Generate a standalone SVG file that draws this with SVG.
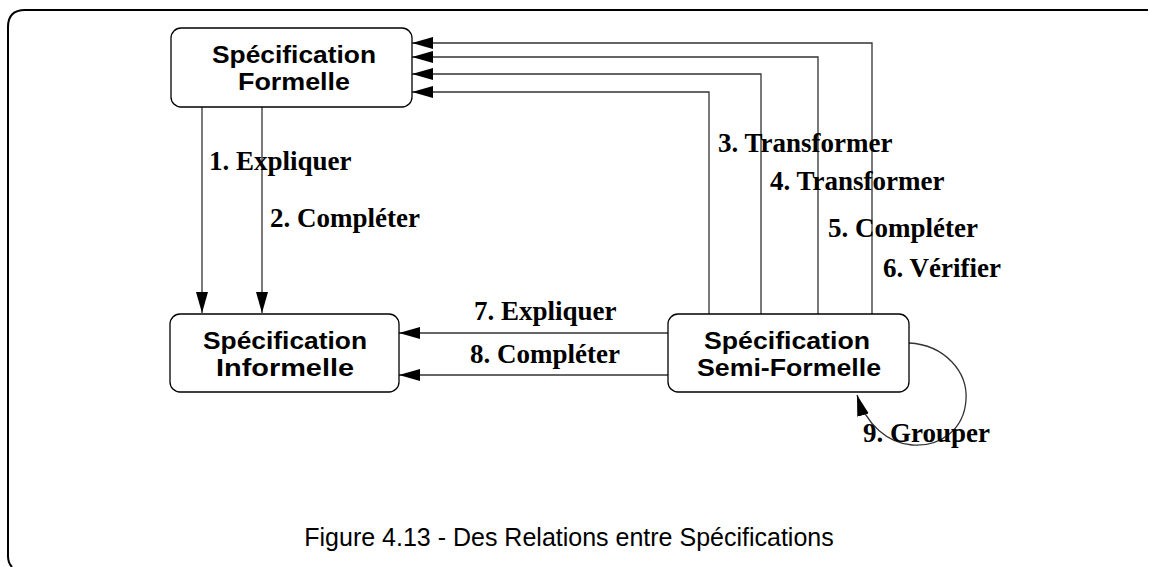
<svg xmlns="http://www.w3.org/2000/svg" width="1150" height="567" viewBox="0 0 1150 567">
<defs>
<marker id="ah" markerWidth="21" markerHeight="12" refX="21" refY="6" orient="auto" markerUnits="userSpaceOnUse">
<path d="M0,0 L21,6 L0,12 Z" fill="#000"/>
</marker>
<style>
.box{fill:#fff;stroke:#000;stroke-width:1.3}
.nl{font-family:"Liberation Sans",Arial,sans-serif;font-weight:bold;font-size:24px;fill:#000;text-anchor:middle}
.el{font-family:"Liberation Serif","Times New Roman",serif;font-weight:bold;font-size:27px;fill:#000}
.c{fill:none;stroke:#333;stroke-width:1.3}
.cap{font-family:"Liberation Sans",Arial,sans-serif;font-size:25px;fill:#000}
</style>
</defs>
<rect width="1150" height="567" fill="#fff"/>
<g id="frame">
<path d="M1148,10 H25 Q8,10 8,27 V556 Q8,563 12,567" fill="none" stroke="#000" stroke-width="2"/>
</g>
<g id="connectors">
<path class="c" d="M872,314 V43 H412" marker-end="url(#ah)"/>
<path class="c" d="M818,314 V57 H412" marker-end="url(#ah)"/>
<path class="c" d="M761,314 V74 H412" marker-end="url(#ah)"/>
<path class="c" d="M709,314 V92 H412" marker-end="url(#ah)"/>
<path class="c" d="M202,107 V313" marker-end="url(#ah)"/>
<path class="c" d="M262,107 V313" marker-end="url(#ah)"/>
<path class="c" d="M668,333 H399" marker-end="url(#ah)"/>
<path class="c" d="M668,375 H399" marker-end="url(#ah)"/>
<path class="c" d="M909,343 C945,345 968,372 966,400 C964,430 940,447 912,445 C888,443 866,425 857,395" marker-end="url(#ah)"/>
<text class="el" x="209" y="170">1. Expliquer</text>
<text class="el" x="270" y="227">2. Compléter</text>
<text class="el" x="718" y="152">3. Transformer</text>
<text class="el" x="770" y="190">4. Transformer</text>
<text class="el" x="828" y="237">5. Compléter</text>
<text class="el" x="883" y="277">6. Vérifier</text>
<text class="el" x="474" y="320">7. Expliquer</text>
<text class="el" x="470" y="363">8. Compléter</text>
<text class="el" x="863" y="442">9. Grouper</text>
</g>
<g id="formelle">
<rect class="box" x="171" y="28" width="241" height="79" rx="10"/>
<text class="nl" x="294" y="63" textLength="164" lengthAdjust="spacingAndGlyphs">Spécification</text>
<text class="nl" x="294" y="90" textLength="112" lengthAdjust="spacingAndGlyphs">Formelle</text>
</g>
<g id="informelle">
<rect class="box" x="170" y="314" width="229" height="78" rx="10"/>
<text class="nl" x="285" y="349" textLength="164" lengthAdjust="spacingAndGlyphs">Spécification</text>
<text class="nl" x="285" y="376" textLength="138" lengthAdjust="spacingAndGlyphs">Informelle</text>
</g>
<g id="semiformelle">
<rect class="box" x="668" y="314" width="241" height="78" rx="10"/>
<text class="nl" x="787" y="349" textLength="166" lengthAdjust="spacingAndGlyphs">Spécification</text>
<text class="nl" x="789" y="376" textLength="184" lengthAdjust="spacingAndGlyphs">Semi-Formelle</text>
</g>
<g id="caption">
<text class="cap" x="569" y="546" text-anchor="middle">Figure 4.13 - Des Relations entre Spécifications</text>
</g>
</svg>
